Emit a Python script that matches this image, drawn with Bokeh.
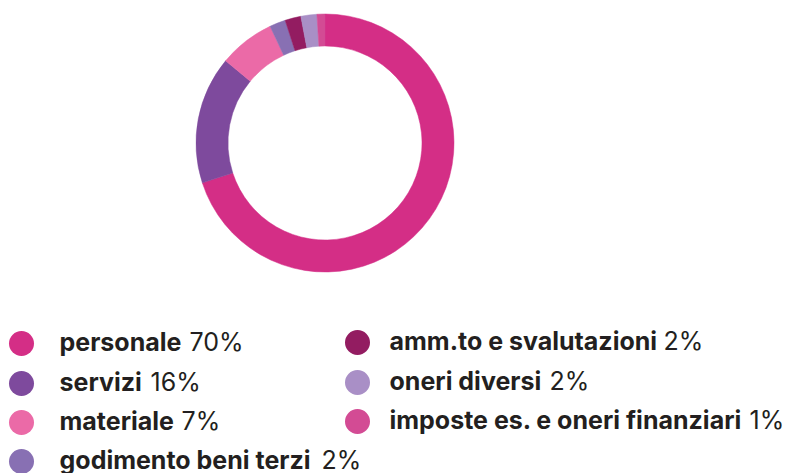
import math
from bokeh.plotting import figure
from bokeh.models import Range1d, ColumnDataSource
from bokeh.core.properties import value
from bokeh.embed import file_html
from bokeh.resources import INLINE

# ---- data ----
categories = ["personale", "servizi", "materiale", "godimento beni terzi",
              "amm.to e svalutazioni", "oneri diversi", "imposte es. e oneri finanziari"]
shares = [70, 16, 7, 2, 2, 2, 1]
colors = ["#D42E86", "#7E4A9D", "#EB6AA7", "#8870B3", "#931C61", "#A98FC6", "#D34B94"]

W, H = 789, 473
p = figure(width=W, height=H, output_backend="svg", toolbar_location=None,
           x_range=Range1d(0, W), y_range=Range1d(0, H), min_border=0)
p.axis.visible = False
p.grid.visible = False
p.outline_line_color = None
p.background_fill_color = "white"

# ---- donut ----
total = sum(shares)
cum = [0]
for s in shares:
    cum.append(cum[-1] + s)
start = [math.pi / 2 - 2 * math.pi * c / total for c in cum[:-1]]
end = [math.pi / 2 - 2 * math.pi * c / total for c in cum[1:]]
src = ColumnDataSource(dict(start=start, end=end, color=colors))
cx, cy = 324.5, H - 142.5
p.annular_wedge(x=cx, y=cy, inner_radius=97, outer_radius=129,
                inner_radius_units="screen", outer_radius_units="screen",
                start_angle="start", end_angle="end", direction="clock",
                fill_color="color", line_color="color", line_width=0.5, source=src)

# ---- legend layout ----
rows_left = [343, 383, 422, 461]
rows_right = [342, 382, 421]
pos = [(21, y) for y in rows_left] + [(357, y) for y in rows_right]
text_x = [59] * 4 + [389] * 3
pct_x = [189, 150, 181, 321, 663, 549, 749]
text_dy = -2
lx = [x for x, _ in pos]
ly = [H - y for _, y in pos]
ty = [H - y - text_dy for _, y in pos]
pct = [f"{s}%" for s in shares]
lsrc = ColumnDataSource(dict(lx=lx, ly=ly, tx=text_x, ty=ty, cat=categories,
                             pct=pct, px=pct_x, color=colors))
p.scatter(x="lx", y="ly", size=25, fill_color="color", line_color=None, source=lsrc)
p.text(x="tx", y="ty", text="cat", text_font=value("Inter"), text_font_size="25px",
       text_font_style="bold", text_color="#231F20", text_baseline="middle",
       source=lsrc)
p.text(x="px", y="ty", text="pct", text_font=value("Inter"), text_font_size="25px",
       text_color="#231F20", text_baseline="middle", source=lsrc)

open("out.html", "w").write(file_html(p, INLINE))
